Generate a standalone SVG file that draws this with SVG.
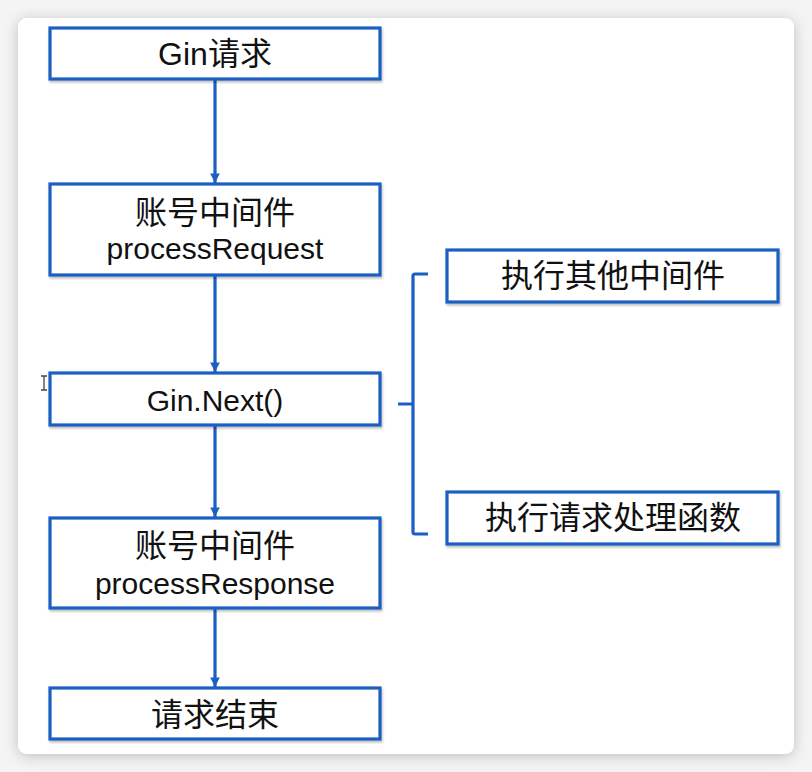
<svg xmlns="http://www.w3.org/2000/svg" width="812" height="772" viewBox="0 0 812 772">
<defs>
<style>
.box{fill:#ffffff;stroke:#1b5fc2;stroke-width:3.2;filter:url(#bs)}
.cn{font-family:"Liberation Sans","Noto Sans CJK SC",sans-serif;font-size:32px;fill:#111;text-anchor:middle}
.en{font-family:"Liberation Sans","Noto Sans CJK SC",sans-serif;font-size:30px;fill:#111;text-anchor:middle}
.conn{stroke:#1b5fc2;stroke-width:3.2;fill:none}
</style>
<filter id="card" x="-10%" y="-10%" width="120%" height="120%">
<feDropShadow dx="0" dy="2" stdDeviation="7" flood-color="#000" flood-opacity="0.22"/>
</filter>
<filter id="bs" x="-5%" y="-20%" width="110%" height="140%">
<feDropShadow dx="1" dy="2" stdDeviation="1" flood-color="#000" flood-opacity="0.25"/>
</filter>
<marker id="ah" viewBox="0 0 10 10" refX="10" refY="5" markerWidth="3" markerHeight="3" orient="auto" markerUnits="strokeWidth">
<path d="M0,0 L10,5 L0,10 z" fill="#1b5fc2"/>
</marker>
</defs>
<rect x="0" y="0" width="812" height="772" fill="#f4f4f4"/>
<rect x="18" y="18" width="776" height="736" rx="9" fill="#ffffff" filter="url(#card)"/>

<g id="connectors">
<line class="conn" x1="215" y1="80" x2="215" y2="183" marker-end="url(#ah)"/>
<line class="conn" x1="215" y1="276" x2="215" y2="372" marker-end="url(#ah)"/>
<line class="conn" x1="215" y1="426" x2="215" y2="517" marker-end="url(#ah)"/>
<line class="conn" x1="215" y1="609" x2="215" y2="687" marker-end="url(#ah)"/>
<path class="conn" d="M428,274 L415,274 Q413,274 413,276 L413,532 Q413,534 415,534 L428,534 M398,404 L413,404"/>
</g>

<g id="node-gin-request">
<rect class="box" x="50" y="28" width="330" height="51"/>
<text class="cn" x="215" y="65">Gin请求</text>
</g>
<g id="node-process-request">
<rect class="box" x="50" y="184" width="330" height="91"/>
<text class="cn" x="215" y="224">账号中间件</text>
<text class="en" x="215" y="259">processRequest</text>
</g>
<g id="node-gin-next">
<rect class="box" x="50" y="373" width="330" height="52"/>
<text class="en" x="215" y="411">Gin.Next()</text>
</g>
<g id="node-process-response">
<rect class="box" x="50" y="518" width="330" height="90"/>
<text class="cn" x="215" y="557">账号中间件</text>
<text class="en" x="215" y="594">processResponse</text>
</g>
<g id="node-request-end">
<rect class="box" x="50" y="688" width="330" height="51"/>
<text class="cn" x="215" y="726">请求结束</text>
</g>
<g id="node-other-middleware">
<rect class="box" x="447" y="250" width="331" height="52"/>
<text class="cn" x="613" y="287">执行其他中间件</text>
</g>
<g id="node-handler">
<rect class="box" x="447" y="492" width="331" height="52"/>
<text class="cn" x="613" y="529">执行请求处理函数</text>
</g>

<path d="M41,376 L47,376 M44,376 L44,390 M41,390 L47,390" stroke="#444" stroke-width="1.3" fill="none"/>
</svg>
